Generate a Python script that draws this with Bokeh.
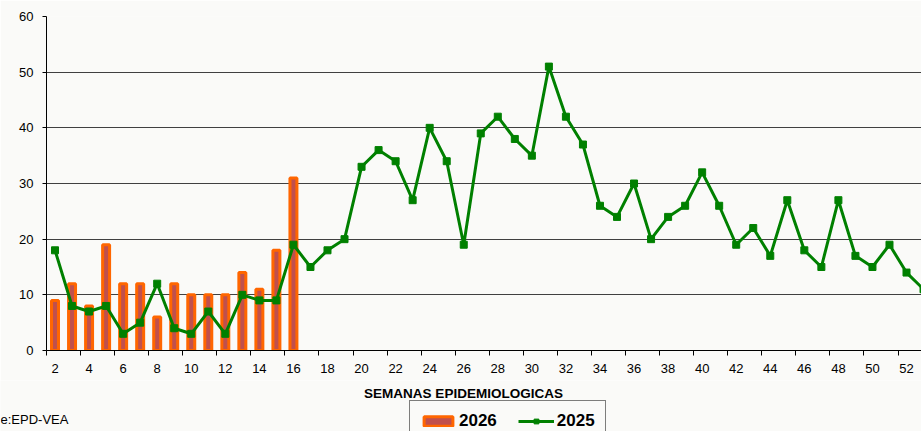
from bokeh.plotting import figure
from bokeh.layouts import column
from bokeh.models import FixedTicker, Range1d, Legend, LegendItem, Label
from bokeh.embed import file_html
from bokeh.resources import INLINE

# ---- data ----
weeks_2025 = list(range(2, 54))
cases_2025 = [18, 8, 7, 8, 3, 5, 12, 4, 3, 7, 3, 10, 9, 9, 19, 15, 18, 20,
              33, 36, 34, 27, 40, 34, 19, 39, 42, 38, 35, 51, 42, 37, 26, 24,
              30, 20, 24, 26, 32, 26, 19, 22, 17, 27, 18, 15, 27, 17, 15, 19,
              14, 11]
weeks_2026 = list(range(2, 17))
cases_2026 = [9, 12, 8, 19, 12, 12, 6, 12, 10, 10, 10, 14, 11, 18, 31]
tick_weeks = list(range(2, 53, 2))
y_ticks = [0, 10, 20, 30, 40, 50, 60]
series_names = ["2026", "2025"]
x_title = "SEMANAS EPIDEMIOLOGICAS"
source_text = "e:EPD-VEA"

FONT = "Liberation Sans"
BG = "#FAFAF8"
BAR_FILL, BAR_LINE, LINE_COL = "#C0504D", "#FF6600", "#008000"

W = 921
H1, H2 = 380, 51
p = figure(width=W, height=H1, output_backend="svg", toolbar_location=None,
           x_range=Range1d(1.5, 1.5 + (W - 46) / 17.03), y_range=Range1d(0, 60),
           min_border_left=46, min_border_right=0, min_border_top=16,
           min_border_bottom=30, background_fill_color=BG,
           border_fill_color=BG, outline_line_color=None)
p.frame_align = False

# axes
p.xaxis.ticker = FixedTicker(ticks=tick_weeks,
                             minor_ticks=[w - 0.5 for w in tick_weeks])
p.xaxis.major_tick_out = 0
p.xaxis.major_tick_in = 0
p.xaxis.minor_tick_out = 5
p.xaxis.minor_tick_in = 0
p.xaxis.minor_tick_line_color = "black"
p.xaxis.axis_line_color = "black"
p.xaxis.major_label_standoff = 8
p.yaxis.ticker = FixedTicker(ticks=y_ticks)
p.yaxis.major_tick_out = 4
p.yaxis.major_tick_in = 0
p.yaxis.minor_tick_line_color = None
p.yaxis.axis_line_color = "black"
p.yaxis.major_label_standoff = 9
for ax in (p.xaxis, p.yaxis):
    ax.major_label_text_font = FONT
    ax.major_label_text_font_size = "13px"
    ax.major_label_text_color = "black"
    ax.major_tick_line_color = "black"

p.xgrid.grid_line_color = None
p.ygrid.grid_line_color = "#404040"
p.ygrid.grid_line_width = 1

# glyphs
p.vbar(x=weeks_2026, top=cases_2026, width=0.41,
       fill_color=BAR_FILL, line_color=BAR_LINE, line_width=3)
p.line(weeks_2025, cases_2025, line_color=LINE_COL, line_width=3)
p.scatter(weeks_2025, cases_2025, marker="square", size=7,
          fill_color=LINE_COL, line_color=LINE_COL)

# ---- bottom strip: axis title, source, legend ----
p2 = figure(width=W, height=H2, output_backend="svg", toolbar_location=None,
            x_range=Range1d(0, W), y_range=Range1d(0, H2),
            x_axis_location=None, y_axis_location=None, min_border=0,
            background_fill_color=BG, border_fill_color=BG,
            outline_line_color=None)
p2.frame_align = False
p2.grid.visible = False

# legend swatches (same series, hidden in this strip)
lb = p2.vbar(x=weeks_2026, top=cases_2026, width=0.41, fill_color=BAR_FILL,
             line_color=BAR_LINE, line_width=3, visible=False)
ll = p2.line(weeks_2025, cases_2025, line_color=LINE_COL, line_width=3,
             visible=False)
ls = p2.scatter(weeks_2025, cases_2025, marker="square", size=7,
                fill_color=LINE_COL, line_color=LINE_COL, visible=False)

legend = Legend(items=[LegendItem(label=series_names[0], renderers=[lb]),
                       LegendItem(label=series_names[1], renderers=[ll, ls])],
                orientation="horizontal", location=(409, -11),
                label_text_font=FONT, label_text_font_style="bold",
                label_text_font_size="17px", label_text_color="black",
                label_text_baseline="alphabetic",
                border_line_color="black", border_line_width=1,
                background_fill_color=BG, background_fill_alpha=1,
                padding=10, spacing=21, label_standoff=3,
                glyph_width=36, glyph_height=12, margin=0)
p2.add_layout(legend)

p2.add_layout(Label(x=463, y=38, x_units="screen", y_units="screen",
                    text=x_title, text_align="center",
                    text_baseline="middle", text_font=FONT,
                    text_font_style="bold", text_font_size="13.5px",
                    text_color="black"))
p2.add_layout(Label(x=0, y=12, x_units="screen", y_units="screen",
                    text=source_text, text_align="left",
                    text_baseline="middle", text_font=FONT,
                    text_font_size="13px", text_color="black"))

layout = column(p, p2, spacing=0)
open("out.html", "w").write(file_html(layout, INLINE))
